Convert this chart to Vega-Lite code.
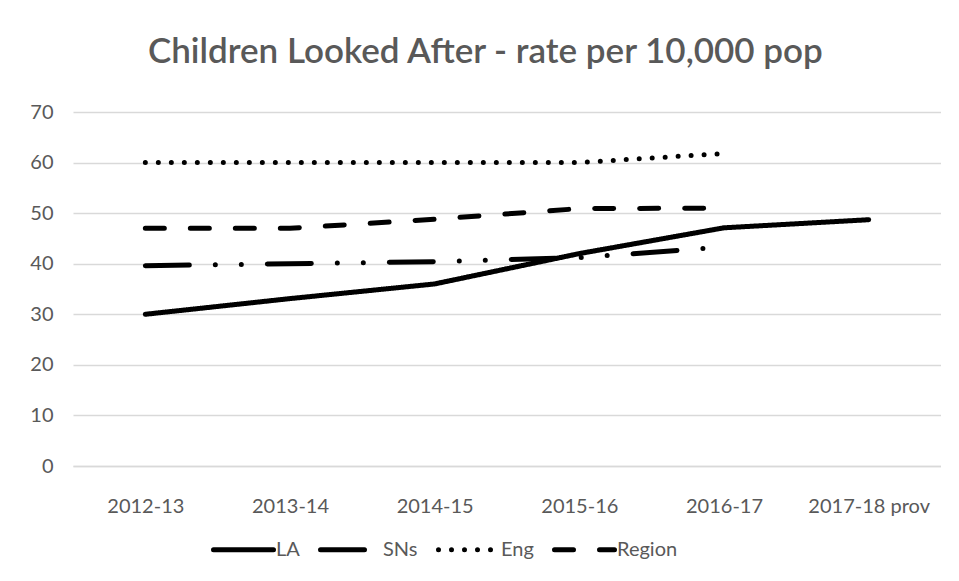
{
  "$schema": "https://vega.github.io/schema/vega-lite/v6.json",
  "width": 868,
  "height": 354,
  "padding": {"left": 29, "top": 35, "right": 0, "bottom": 0},
  "background": "white",
  "title": {
    "text": "Children Looked After - rate per 10,000 pop",
    "font": "Lato",
    "fontSize": 35,
    "fontWeight": 600,
    "color": "#595959",
    "anchor": "middle",
    "frame": "bounds",
    "offset": 32
  },
  "data": {
    "values": [
      {"series": "LA", "year": "2012-13", "rate": 30},
      {"series": "LA", "year": "2013-14", "rate": 33.1},
      {"series": "LA", "year": "2014-15", "rate": 36},
      {"series": "LA", "year": "2015-16", "rate": 42},
      {"series": "LA", "year": "2016-17", "rate": 47.1},
      {"series": "LA", "year": "2017-18 prov", "rate": 48.7},
      {"series": "SNs", "year": "2012-13", "rate": 39.6},
      {"series": "SNs", "year": "2013-14", "rate": 40},
      {"series": "SNs", "year": "2014-15", "rate": 40.4},
      {"series": "SNs", "year": "2015-16", "rate": 41.2},
      {"series": "SNs", "year": "2016-17", "rate": 43.3},
      {"series": "Eng", "year": "2012-13", "rate": 60},
      {"series": "Eng", "year": "2013-14", "rate": 60},
      {"series": "Eng", "year": "2014-15", "rate": 60},
      {"series": "Eng", "year": "2015-16", "rate": 60},
      {"series": "Eng", "year": "2016-17", "rate": 61.8},
      {"series": "Region", "year": "2012-13", "rate": 47},
      {"series": "Region", "year": "2013-14", "rate": 47},
      {"series": "Region", "year": "2014-15", "rate": 48.8},
      {"series": "Region", "year": "2015-16", "rate": 50.9},
      {"series": "Region", "year": "2016-17", "rate": 51}
    ]
  },
  "mark": {"type": "line", "strokeWidth": 5, "strokeCap": "round", "color": "black"},
  "encoding": {
    "x": {
      "field": "year",
      "type": "ordinal",
      "scale": {"type": "point", "padding": 0.5, "domain": ["2012-13", "2013-14", "2014-15", "2015-16", "2016-17", "2017-18 prov"]},
      "axis": {
        "title": null,
        "labelAngle": 0,
        "labelFont": "Lato",
        "labelFontSize": 20,
        "labelColor": "#595959",
        "ticks": false,
        "grid": false,
        "domainColor": "#d9d9d9",
        "domainWidth": 1.5,
        "labelPadding": 30
      }
    },
    "y": {
      "field": "rate",
      "type": "quantitative",
      "scale": {"domain": [0, 70]},
      "axis": {
        "title": null,
        "values": [0, 10, 20, 30, 40, 50, 60, 70],
        "labelFont": "Lato",
        "labelFontSize": 20,
        "labelColor": "#595959",
        "domain": false,
        "ticks": false,
        "grid": true,
        "gridColor": "#d9d9d9",
        "gridWidth": 1.5,
        "labelPadding": 20
      }
    },
    "strokeDash": {
      "field": "series",
      "type": "nominal",
      "scale": {
        "domain": ["LA", "SNs", "Eng", "Region"],
        "range": [[1, 0], [44, 26, 0, 26, 0, 26], [0, 13], [19, 26]]
      },
      "legend": {
        "title": null,
        "orient": "none",
        "direction": "horizontal",
        "legendX": 138,
        "legendY": 405,
        "symbolType": "stroke",
        "symbolSize": 3600,
        "symbolStrokeWidth": 5,
        "symbolStrokeColor": "black",
        "labelFont": "Lato",
        "labelFontSize": 20,
        "labelColor": "#595959",
        "labelOffset": 0,
        "columnPadding": 10,
        "encode": {"symbols": {"update": {"strokeCap": {"value": "round"}}}}
      }
    }
  },
  "config": {"view": {"stroke": null}}
}
